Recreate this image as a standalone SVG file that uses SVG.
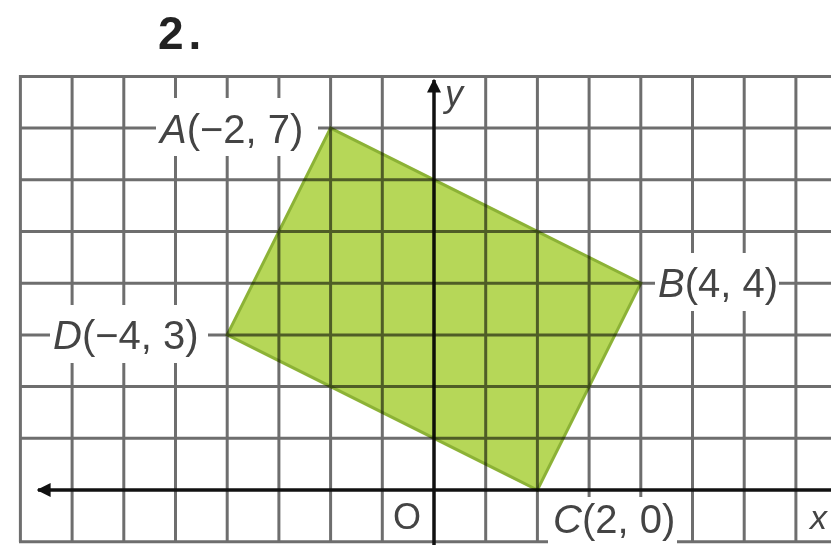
<svg xmlns="http://www.w3.org/2000/svg" width="831" height="545" viewBox="0 0 831 545">
<style>
.g{stroke:#6e6e6e;stroke-width:3;fill:none}
.ax{stroke:#111;stroke-width:3.5;fill:none}
.lbl{font-family:"Liberation Sans",Arial,sans-serif;font-size:40px;fill:#444}
.it{font-style:italic}
.bg{fill:#fff}
.poly{fill:#b6d758;stroke:#8cb236;stroke-width:3;mix-blend-mode:multiply}
</style>
<defs>
<marker id="arr" viewBox="0 0 10 10" refX="9" refY="5" markerWidth="4" markerHeight="4" orient="auto-start-reverse">
<path d="M0,0 L10,5 L0,10 z" fill="#111"/>
</marker>
</defs>
<rect width="831" height="545" fill="#fff"/>
<g id="grid">
<path class="g" d="M20.4 75V542 M72.1 75V542 M123.8 75V542 M175.5 75V542 M227.2 75V542 M278.9 75V542 M330.6 75V542 M382.3 75V542 M485.7 75V542 M537.4 75V542 M589.1 75V542 M640.8 75V542 M692.5 75V542 M744.2 75V542 M795.9 75V542"/>
<path class="g" d="M19 76.4H831 M19 128.1H831 M19 179.8H831 M19 231.5H831 M19 283.2H831 M19 334.9H831 M19 386.6H831 M19 438.3H831 M19 541.7H831"/>
</g>
<g id="title">
<text x="158" y="49" style="font-family:'Liberation Sans',Arial,sans-serif;font-size:46px;font-weight:bold;fill:#222;letter-spacing:5px">2.</text>
</g>
<g id="A">
<rect class="bg" x="156" y="98" width="162" height="58"/>
<text class="lbl" x="160" y="143"><tspan class="it">A</tspan>(−2, 7)</text>
</g>
<g id="B">
<rect class="bg" x="655" y="253" width="124" height="58"/>
<text class="lbl" x="658" y="297"><tspan class="it">B</tspan>(4, 4)</text>
</g>
<g id="C">
<rect class="bg" x="548" y="497" width="129" height="48"/>
<text class="lbl" x="553" y="533"><tspan class="it">C</tspan>(2, 0)</text>
</g>
<g id="D">
<rect class="bg" x="50" y="305" width="158" height="58"/>
<text class="lbl" x="53" y="349"><tspan class="it">D</tspan>(−4, 3)</text>
</g>
<g id="O">
<rect class="bg" x="392" y="499" width="32" height="35"/>
<text class="lbl" x="393" y="529" style="font-size:36px">O</text>
</g>
<g id="ylabel">
<text class="lbl it" x="445" y="106" style="font-size:36px">y</text>
</g>
<g id="xlabel">
<text class="lbl it" x="810" y="529" style="font-size:34px">x</text>
</g>
<g id="axes">
<path class="ax" d="M434 545V80" marker-end="url(#arr)"/>
<path class="ax" d="M38 490H831" marker-start="url(#arr)"/>
</g>
<g id="polygon">
<polygon class="poly" points="330.6,128.1 640.8,283.2 537.4,490 227.2,334.9"/>
</g>
</svg>
